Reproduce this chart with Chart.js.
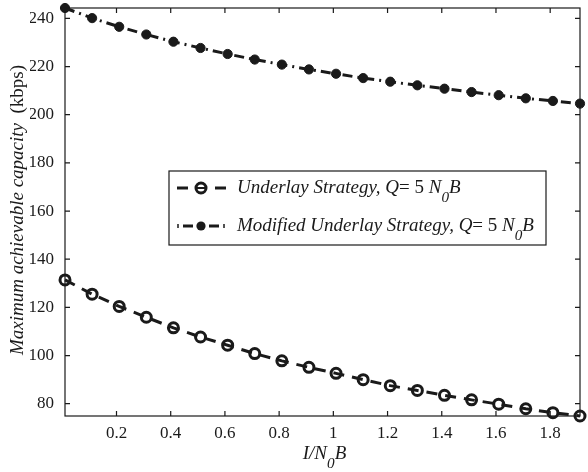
<!DOCTYPE html>
<html>
<head>
<meta charset="utf-8">
<script src="https://cdn.jsdelivr.net/npm/chart.js@4"></script>
<style>
html,body{margin:0;padding:0;background:#fff;}
#wrap{width:588px;height:472px;position:relative;}
</style>
</head>
<body>
<div id="wrap"><canvas id="c" width="588" height="472"></canvas></div>
<script>
const xValues = [0.01,0.11,0.21,0.31,0.41,0.51,0.61,0.71,0.81,0.91,1.01,1.11,1.21,1.31,1.41,1.51,1.61,1.71,1.81,1.91];
const underlay = [131.4,125.5,120.4,115.9,111.5,107.7,104.3,100.8,97.8,95.1,92.6,90.0,87.5,85.5,83.5,81.6,79.8,77.9,76.3,74.9];
const modified = [244.3,240.1,236.5,233.3,230.3,227.7,225.2,222.9,220.8,218.8,217.0,215.2,213.7,212.2,210.8,209.4,208.1,206.8,205.7,204.6];
const xTicks = [0.2,0.4,0.6,0.8,1,1.2,1.4,1.6,1.8];
const yTicks = [80,100,120,140,160,180,200,220,240];
const seriesNames = ['Underlay Strategy, ', 'Modified Underlay Strategy, '];

const FONT = "'Liberation Serif', 'DejaVu Serif', serif";
const INK = '#1a1a1a';

function pts(ys){ return xValues.map((x,i)=>({x:x,y:ys[i]})); }

function drawRich(ctx, segs, x, y, align){
  let total = 0;
  const meas = segs.map(s=>{
    const size = s.sub ? s.size*0.8 : s.size;
    ctx.font = (s.italic?'italic ':'') + size + 'px ' + FONT;
    const w = ctx.measureText(s.t).width;
    total += w;
    return {w:w, size:size};
  });
  let cx = align==='center' ? x - total/2 : x;
  segs.forEach((s,i)=>{
    ctx.font = (s.italic?'italic ':'') + meas[i].size + 'px ' + FONT;
    ctx.fillText(s.t, cx, y + (s.sub ? s.size*0.45 : 0));
    cx += meas[i].w;
  });
}

const decor = {
  id:'decor',
  afterDraw(chart){
    const ctx = chart.ctx;
    const a = chart.chartArea;
    const xs = chart.scales.x, ys = chart.scales.y;
    ctx.save();
    ctx.strokeStyle = INK;
    ctx.lineWidth = 1.2;
    ctx.setLineDash([]);
    ctx.strokeRect(a.left, a.top, a.right-a.left, a.bottom-a.top);
    const L = 5;
    ctx.beginPath();
    xTicks.forEach(v=>{
      const p = xs.getPixelForValue(v);
      ctx.moveTo(p, a.bottom); ctx.lineTo(p, a.bottom-L);
      ctx.moveTo(p, a.top); ctx.lineTo(p, a.top+L);
    });
    yTicks.forEach(v=>{
      const p = ys.getPixelForValue(v);
      ctx.moveTo(a.left, p); ctx.lineTo(a.left+L, p);
      ctx.moveTo(a.right, p); ctx.lineTo(a.right-L, p);
    });
    ctx.stroke();

    ctx.fillStyle = INK;
    ctx.textBaseline = 'alphabetic';
    drawRich(ctx, [{t:'I/N',italic:true,size:19},{t:'0',italic:true,sub:true,size:19},{t:'B',italic:true,size:19}], (a.left+a.right)/2+2, 459, 'center');

    ctx.save();
    ctx.translate(23, 210);
    ctx.rotate(-Math.PI/2);
    drawRich(ctx, [{t:'Maximum achievable capacity',italic:true,size:19},{t:'  (kbps)',italic:false,size:19}], 0, 0, 'center');
    ctx.restore();

    // legend
    const bx=169, by=171, bw=377, bh=74;
    ctx.fillStyle='#fff';
    ctx.fillRect(bx,by,bw,bh);
    ctx.strokeStyle=INK; ctx.lineWidth=1.2;
    ctx.strokeRect(bx,by,bw,bh);
    const rows=[188,226];
    const dsets = chart.data.datasets;
    rows.forEach((ry,i)=>{
      const ds = dsets[i];
      ctx.strokeStyle=INK; ctx.lineWidth=ds.borderWidth;
      ctx.beginPath();
      if(i===0){
        ctx.moveTo(177,ry); ctx.lineTo(188,ry);
        ctx.moveTo(215,ry); ctx.lineTo(226,ry);
      } else {
        ctx.moveTo(183,ry); ctx.lineTo(193,ry);
        ctx.moveTo(209,ry); ctx.lineTo(219,ry);
      }
      ctx.stroke();
      if(i===1){
        ctx.lineWidth=1.5;
        ctx.beginPath(); ctx.moveTo(178,ry-2); ctx.lineTo(178,ry+2);
        ctx.moveTo(224,ry-2); ctx.lineTo(224,ry+2); ctx.stroke();
      }
      ctx.beginPath();
      ctx.arc(201, ry, ds.pointRadius, 0, Math.PI*2);
      if(i===0){ ctx.lineWidth=ds.pointBorderWidth; ctx.stroke(); ctx.lineWidth=2; ctx.beginPath(); ctx.moveTo(197,ry); ctx.lineTo(205,ry); ctx.stroke(); }
      else { ctx.fillStyle=INK; ctx.fill(); }
      ctx.fillStyle=INK;
      drawRich(ctx, [
        {t:seriesNames[i]+'Q',italic:true,size:19},
        {t:'= 5 ',italic:false,size:19},
        {t:'N',italic:true,size:19},
        {t:'0',italic:true,sub:true,size:19},
        {t:'B',italic:true,size:19}
      ], 237, ry+5, 'left');
    });
    ctx.restore();
  }
};

new Chart(document.getElementById('c'), {
  type:'line',
  data:{
    datasets:[
      {label:'Underlay Strategy', data:pts(underlay), borderColor:INK, borderWidth:3,
       borderDash:[11,8], pointStyle:'circle', pointRadius:5, pointBorderWidth:3,
       pointBorderColor:INK, pointBackgroundColor:'rgba(0,0,0,0)', clip:false, tension:0},
      {label:'Modified Underlay Strategy', data:pts(modified), borderColor:INK, borderWidth:3,
       borderDash:[10,5,2,5], pointStyle:'circle', pointRadius:4.6, pointBorderWidth:1,
       pointBorderColor:INK, pointBackgroundColor:INK, clip:false, tension:0}
    ]
  },
  options:{
    responsive:false, animation:false, devicePixelRatio:1,
    layout:{padding:{left:30,right:3,top:5,bottom:0}},
    plugins:{legend:{display:false}, tooltip:{enabled:false}},
    scales:{
      x:{type:'linear', min:0.01, max:1.91,
         afterBuildTicks:(s)=>{ s.ticks = xTicks.map(v=>({value:v})); },
         afterFit:(s)=>{ s.height = 56; s.paddingLeft = 0; s.paddingRight = 0; },
         grid:{display:false, drawTicks:false}, border:{display:false},
         ticks:{padding:7, color:INK, font:{family:FONT,size:17}, maxRotation:0, autoSkip:false,
                callback:(v)=>String(Number(v.toFixed(1)))}},
      y:{type:'linear', min:74.9, max:244.3,
         afterBuildTicks:(s)=>{ s.ticks = yTicks.map(v=>({value:v})); },
         afterFit:(s)=>{ s.width = 35; s.paddingTop = 0; s.paddingBottom = 0; },
         grid:{display:false, drawTicks:false}, border:{display:false},
         ticks:{padding:11, color:INK, font:{family:FONT,size:17}, autoSkip:false,
                callback:(v)=>String(v)}}
    }
  },
  plugins:[decor]
});
</script>
</body>
</html>
